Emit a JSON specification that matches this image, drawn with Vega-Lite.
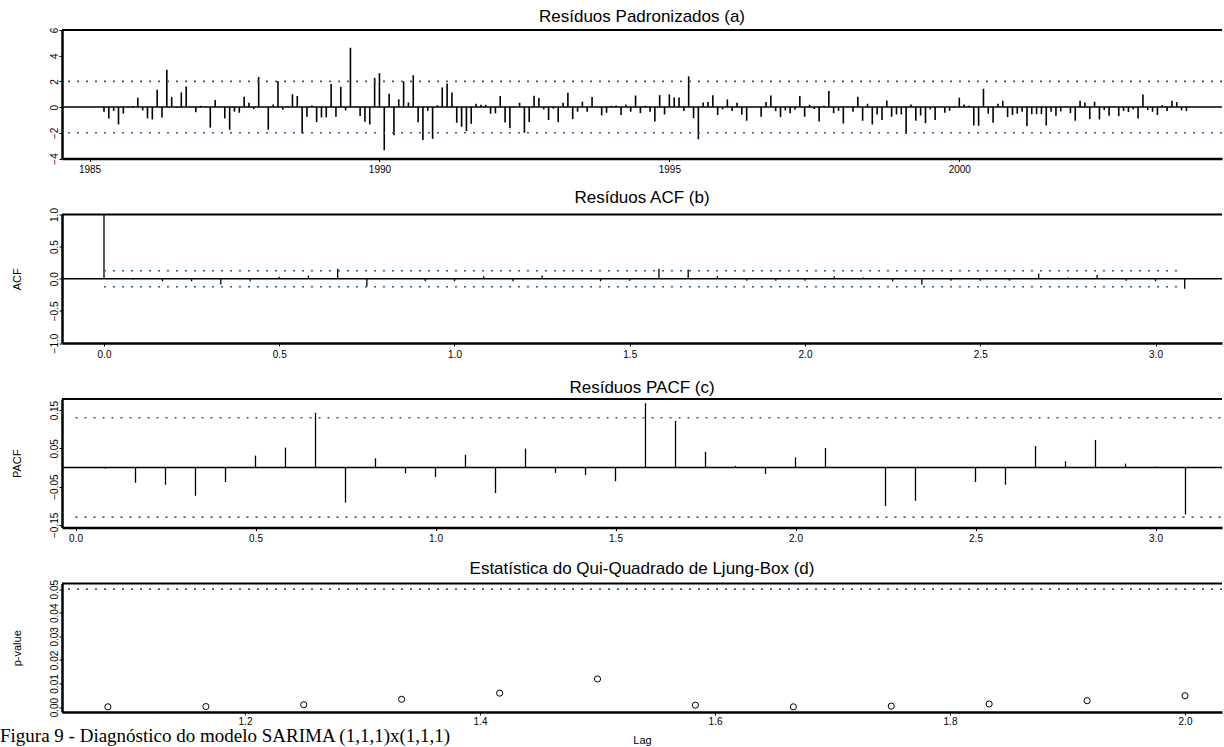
{
"$schema": "https://vega.github.io/schema/vega-lite/v6.json",
"background": "white",
"padding": {"left": 0, "top": 8, "right": 0, "bottom": 0},
"bounds": "flush",
"spacing": 55.5,
"title": {"text": "Figura 9 - Diagnóstico do modelo SARIMA (1,1,1)x(1,1,1)", "orient": "bottom", "anchor": "start", "frame": "bounds", "font": "Liberation Serif", "fontSize": 19, "fontWeight": "normal", "color": "black", "dx": -11, "offset": -18},
"config": {
  "view": {"stroke": null},
  "font": "Liberation Sans",
  "axis": {"domainColor": "black", "domainWidth": 2.5, "tickColor": "black", "tickSize": 3, "tickWidth": 1, "labelColor": "black", "labelFont": "Liberation Sans", "labelFontSize": 10, "labelOverlap": false, "labelFlush": false, "labelBound": false, "grid": false, "titleFont": "Liberation Sans", "titleFontSize": 11, "titleFontWeight": "normal", "titleColor": "black"},
  "axisY": {"labelAngle": -90, "labelAlign": "center", "labelBaseline": "bottom", "labelPadding": 0, "minExtent": 14, "maxExtent": 14, "titlePadding": 26},
  "axisX": {"labelPadding": 3, "titlePadding": 8},
  "title": {"font": "Liberation Sans", "fontSize": 17, "fontWeight": "normal", "color": "black", "offset": 1, "anchor": "middle"}
},
"datasets": {
  "res": [
    {"t":1985.25,"v":-0.36},{"t":1985.333,"v":-0.88},{"t":1985.417,"v":-0.3},{"t":1985.5,"v":-1.35},{"t":1985.583,"v":-0.5},{"t":1985.667,"v":-0.03},{"t":1985.75,"v":0.08},{"t":1985.833,"v":0.73},{"t":1985.917,"v":-0.26},
    {"t":1986.0,"v":-0.88},{"t":1986.083,"v":-0.96},{"t":1986.167,"v":1.35},{"t":1986.25,"v":-0.8},{"t":1986.333,"v":2.9},{"t":1986.417,"v":0.78},{"t":1986.5,"v":-0.05},{"t":1986.583,"v":1.14},{"t":1986.667,"v":1.6},{"t":1986.75,"v":0.05},{"t":1986.833,"v":-0.4},{"t":1986.917,"v":0.1},
    {"t":1987.0,"v":0.05},{"t":1987.083,"v":-1.6},{"t":1987.167,"v":0.55},{"t":1987.25,"v":0.05},{"t":1987.333,"v":-0.88},{"t":1987.417,"v":-1.77},{"t":1987.5,"v":-0.36},{"t":1987.583,"v":-0.44},{"t":1987.667,"v":0.8},{"t":1987.75,"v":0.34},{"t":1987.833,"v":-0.15},{"t":1987.917,"v":2.34},
    {"t":1988.0,"v":0.02},{"t":1988.083,"v":-1.77},{"t":1988.167,"v":0.2},{"t":1988.25,"v":2.03},{"t":1988.333,"v":-0.2},{"t":1988.417,"v":0.05},{"t":1988.5,"v":1.0},{"t":1988.583,"v":0.86},{"t":1988.667,"v":-2.05},{"t":1988.75,"v":-0.75},{"t":1988.833,"v":0.13},{"t":1988.917,"v":-1.17},
    {"t":1989.0,"v":-0.8},{"t":1989.083,"v":-0.8},{"t":1989.167,"v":1.8},{"t":1989.25,"v":-0.75},{"t":1989.333,"v":1.58},{"t":1989.417,"v":-0.26},{"t":1989.5,"v":4.62},{"t":1989.583,"v":0.05},{"t":1989.667,"v":-0.7},{"t":1989.75,"v":-1.14},{"t":1989.833,"v":-1.35},{"t":1989.917,"v":2.28},
    {"t":1990.0,"v":2.64},{"t":1990.083,"v":-3.35},{"t":1990.167,"v":1.04},{"t":1990.25,"v":-2.2},{"t":1990.333,"v":0.6},{"t":1990.417,"v":2.0},{"t":1990.5,"v":0.36},{"t":1990.583,"v":2.47},{"t":1990.667,"v":-1.17},{"t":1990.75,"v":-2.57},{"t":1990.833,"v":-0.3},{"t":1990.917,"v":-2.47},
    {"t":1991.0,"v":0.15},{"t":1991.083,"v":1.53},{"t":1991.167,"v":1.84},{"t":1991.25,"v":1.14},{"t":1991.333,"v":-1.22},{"t":1991.417,"v":-1.53},{"t":1991.5,"v":-1.87},{"t":1991.583,"v":-1.3},{"t":1991.667,"v":0.26},{"t":1991.75,"v":0.18},{"t":1991.833,"v":0.18},{"t":1991.917,"v":-0.52},
    {"t":1992.0,"v":-0.49},{"t":1992.083,"v":0.86},{"t":1992.167,"v":-1.19},{"t":1992.25,"v":-1.64},{"t":1992.333,"v":0.05},{"t":1992.417,"v":0.34},{"t":1992.5,"v":-2.0},{"t":1992.583,"v":-1.17},{"t":1992.667,"v":0.88},{"t":1992.75,"v":0.7},{"t":1992.833,"v":-0.18},{"t":1992.917,"v":-1.0},
    {"t":1993.0,"v":-0.13},{"t":1993.083,"v":-1.17},{"t":1993.167,"v":0.34},{"t":1993.25,"v":1.12},{"t":1993.333,"v":-0.94},{"t":1993.417,"v":-0.36},{"t":1993.5,"v":0.42},{"t":1993.583,"v":-0.36},{"t":1993.667,"v":0.78},{"t":1993.75,"v":0.02},{"t":1993.833,"v":-0.65},{"t":1993.917,"v":-0.44},
    {"t":1994.0,"v":0.1},{"t":1994.083,"v":0.13},{"t":1994.167,"v":-0.62},{"t":1994.25,"v":0.2},{"t":1994.333,"v":-0.36},{"t":1994.417,"v":0.9},{"t":1994.5,"v":-0.47},{"t":1994.583,"v":0.1},{"t":1994.667,"v":-0.36},{"t":1994.75,"v":-1.12},{"t":1994.833,"v":0.93},{"t":1994.917,"v":-0.57},
    {"t":1995.0,"v":0.99},{"t":1995.083,"v":0.75},{"t":1995.167,"v":0.75},{"t":1995.25,"v":-0.31},{"t":1995.333,"v":2.39},{"t":1995.417,"v":-0.86},{"t":1995.5,"v":-2.5},{"t":1995.583,"v":0.36},{"t":1995.667,"v":0.39},{"t":1995.75,"v":0.93},{"t":1995.833,"v":-0.62},{"t":1995.917,"v":-0.18},
    {"t":1996.0,"v":0.6},{"t":1996.083,"v":-0.31},{"t":1996.167,"v":0.34},{"t":1996.25,"v":-0.6},{"t":1996.333,"v":-1.06},{"t":1996.417,"v":0.02},{"t":1996.5,"v":0.02},{"t":1996.583,"v":-0.75},{"t":1996.667,"v":0.39},{"t":1996.75,"v":0.9},{"t":1996.833,"v":-0.31},{"t":1996.917,"v":-0.78},
    {"t":1997.0,"v":-0.26},{"t":1997.083,"v":-0.47},{"t":1997.167,"v":-0.2},{"t":1997.25,"v":0.86},{"t":1997.333,"v":-0.75},{"t":1997.417,"v":0.18},{"t":1997.5,"v":-0.15},{"t":1997.583,"v":-1.12},{"t":1997.667,"v":0.1},{"t":1997.75,"v":1.25},{"t":1997.833,"v":-0.47},{"t":1997.917,"v":-0.29},
    {"t":1998.0,"v":-1.27},{"t":1998.083,"v":0.05},{"t":1998.167,"v":-0.36},{"t":1998.25,"v":0.8},{"t":1998.333,"v":-1.06},{"t":1998.417,"v":0.26},{"t":1998.5,"v":-1.35},{"t":1998.583,"v":-0.57},{"t":1998.667,"v":-1.0},{"t":1998.75,"v":0.52},{"t":1998.833,"v":-0.75},{"t":1998.917,"v":-0.57},
    {"t":1999.0,"v":-0.57},{"t":1999.083,"v":-2.1},{"t":1999.167,"v":0.2},{"t":1999.25,"v":-1.06},{"t":1999.333,"v":-0.65},{"t":1999.417,"v":-1.25},{"t":1999.5,"v":-0.18},{"t":1999.583,"v":-1.0},{"t":1999.667,"v":0.02},{"t":1999.75,"v":-0.44},{"t":1999.833,"v":-0.29},{"t":1999.917,"v":0.05},
    {"t":2000.0,"v":0.73},{"t":2000.083,"v":0.2},{"t":2000.167,"v":0.1},{"t":2000.25,"v":-1.43},{"t":2000.333,"v":-1.45},{"t":2000.417,"v":1.43},{"t":2000.5,"v":-0.52},{"t":2000.583,"v":-1.22},{"t":2000.667,"v":0.26},{"t":2000.75,"v":0.49},{"t":2000.833,"v":-0.78},{"t":2000.917,"v":-0.62},
    {"t":2001.0,"v":-0.52},{"t":2001.083,"v":-0.36},{"t":2001.167,"v":-1.48},{"t":2001.25,"v":-0.55},{"t":2001.333,"v":-0.55},{"t":2001.417,"v":-0.55},{"t":2001.5,"v":-1.43},{"t":2001.583,"v":-0.36},{"t":2001.667,"v":-0.68},{"t":2001.75,"v":-0.34},{"t":2001.833,"v":0.05},{"t":2001.917,"v":-0.47},
    {"t":2002.0,"v":-1.06},{"t":2002.083,"v":0.49},{"t":2002.167,"v":0.36},{"t":2002.25,"v":-0.94},{"t":2002.333,"v":0.42},{"t":2002.417,"v":-0.96},{"t":2002.5,"v":-0.23},{"t":2002.583,"v":-0.68},{"t":2002.667,"v":0.02},{"t":2002.75,"v":-0.7},{"t":2002.833,"v":-0.31},{"t":2002.917,"v":-0.39},
    {"t":2003.0,"v":-0.18},{"t":2003.083,"v":-0.88},{"t":2003.167,"v":0.99},{"t":2003.25,"v":-0.23},{"t":2003.333,"v":-0.36},{"t":2003.417,"v":-0.62},{"t":2003.5,"v":0.15},{"t":2003.583,"v":-0.31},{"t":2003.667,"v":0.49},{"t":2003.75,"v":0.39},{"t":2003.833,"v":-0.26},{"t":2003.917,"v":-0.31}
  ],
  "acf": [
    {"lag":0,"acf":1.0},{"lag":0.0833,"acf":-0.01},{"lag":0.1667,"acf":-0.04},{"lag":0.25,"acf":-0.04},{"lag":0.3333,"acf":-0.09},{"lag":0.4167,"acf":-0.04},{"lag":0.5,"acf":0.03},{"lag":0.5833,"acf":0.05},{"lag":0.6667,"acf":0.155},{"lag":0.75,"acf":-0.12},
    {"lag":0.8333,"acf":0.01},{"lag":0.9167,"acf":-0.04},{"lag":1.0,"acf":-0.04},{"lag":1.0833,"acf":0.04},{"lag":1.1667,"acf":-0.04},{"lag":1.25,"acf":0.05},{"lag":1.3333,"acf":0.01},{"lag":1.4167,"acf":-0.04},{"lag":1.5,"acf":-0.03},{"lag":1.5833,"acf":0.155},
    {"lag":1.6667,"acf":0.145},{"lag":1.75,"acf":0.04},{"lag":1.8333,"acf":-0.03},{"lag":1.9167,"acf":-0.03},{"lag":2.0,"acf":-0.03},{"lag":2.0833,"acf":0.04},{"lag":2.1667,"acf":0.02},{"lag":2.25,"acf":-0.04},{"lag":2.3333,"acf":-0.09},{"lag":2.4167,"acf":-0.03},
    {"lag":2.5,"acf":-0.03},{"lag":2.5833,"acf":-0.03},{"lag":2.6667,"acf":0.08},{"lag":2.75,"acf":0.02},{"lag":2.8333,"acf":0.06},{"lag":2.9167,"acf":-0.03},{"lag":3.0,"acf":-0.04},{"lag":3.0833,"acf":-0.155}
  ],
  "pacf": [
    {"lag":0.0833,"pacf":-0.003},{"lag":0.1667,"pacf":-0.04},{"lag":0.25,"pacf":-0.045},{"lag":0.3333,"pacf":-0.074},{"lag":0.4167,"pacf":-0.038},{"lag":0.5,"pacf":0.031},{"lag":0.5833,"pacf":0.052},{"lag":0.6667,"pacf":0.143},{"lag":0.75,"pacf":-0.092},
    {"lag":0.8333,"pacf":0.024},{"lag":0.9167,"pacf":-0.015},{"lag":1.0,"pacf":-0.025},{"lag":1.0833,"pacf":0.033},{"lag":1.1667,"pacf":-0.067},{"lag":1.25,"pacf":0.049},{"lag":1.3333,"pacf":-0.014},{"lag":1.4167,"pacf":-0.02},{"lag":1.5,"pacf":-0.036},{"lag":1.5833,"pacf":0.168},
    {"lag":1.6667,"pacf":0.122},{"lag":1.75,"pacf":0.041},{"lag":1.8333,"pacf":0.004},{"lag":1.9167,"pacf":-0.017},{"lag":2.0,"pacf":0.026},{"lag":2.0833,"pacf":0.051},{"lag":2.1667,"pacf":0.001},{"lag":2.25,"pacf":-0.101},{"lag":2.3333,"pacf":-0.087},
    {"lag":2.4167,"pacf":0.001},{"lag":2.5,"pacf":-0.038},{"lag":2.5833,"pacf":-0.045},{"lag":2.6667,"pacf":0.056},{"lag":2.75,"pacf":0.016},{"lag":2.8333,"pacf":0.072},{"lag":2.9167,"pacf":0.01},{"lag":3.0,"pacf":0.002},{"lag":3.0833,"pacf":-0.123}
  ],
  "lb": [
    {"lag":1.0833,"p":0.0001},{"lag":1.1667,"p":0.0002},{"lag":1.25,"p":0.001},{"lag":1.3333,"p":0.0033},{"lag":1.4167,"p":0.0059},{"lag":1.5,"p":0.0119},
    {"lag":1.5833,"p":0.0008},{"lag":1.6667,"p":0.0001},{"lag":1.75,"p":0.0004},{"lag":1.8333,"p":0.0013},{"lag":1.9167,"p":0.0027},{"lag":2.0,"p":0.0048}
  ]
},
"vconcat": [
  {
    "width": 1160, "height": 128.5,
    "title": "Resíduos Padronizados (a)",
    "layer": [
      {"data": {"name": "res"}, "mark": {"type": "rule", "color": "black", "strokeWidth": 1.6},
       "encoding": {
         "x": {"field": "t", "type": "quantitative", "title": null, "scale": {"domain": [1984.5255, 2004.5307], "nice": false, "zero": false}, "axis": {"values": [1985, 1990, 1995, 2000], "tickCount": 20, "format": "d", "title": null, "labelOverlap": false}},
         "y": {"field": "v", "type": "quantitative", "title": null, "scale": {"domain": [-4, 6], "nice": false, "zero": false}, "axis": {"values": [-4, -2, 0, 2, 4, 6], "tickCount": 20, "format": "d", "title": null, "labelOverlap": false}},
         "y2": {"datum": 0}}},
      {"data": {"values": [{}]}, "mark": {"type": "rule", "color": "black", "strokeWidth": 1.5}, "encoding": {"y": {"datum": 0, "type": "quantitative", "title": null}}},
      {"data": {"values": [{}]}, "mark": {"type": "rule", "color": "black", "strokeWidth": 1.8}, "encoding": {"y": {"datum": 6, "type": "quantitative", "title": null}}},
      {"data": {"values": [{"c": 2}, {"c": -2}]}, "mark": {"type": "rule", "color": "#2b5d9b", "strokeWidth": 1.6, "strokeDash": [2, 7]}, "encoding": {"y": {"field": "c", "type": "quantitative", "title": null}}}
    ]
  },
  {
    "width": 1160, "height": 128.5,
    "title": "Resíduos ACF (b)",
    "layer": [
      {"data": {"name": "acf"}, "mark": {"type": "rule", "color": "black", "strokeWidth": 1.3},
       "encoding": {
         "x": {"field": "lag", "type": "quantitative", "title": null, "scale": {"domain": [-0.1198, 3.1897], "nice": false, "zero": false}, "axis": {"values": [0, 0.5, 1, 1.5, 2, 2.5, 3], "tickCount": 20, "format": ".1f", "title": null, "labelOverlap": false}},
         "y": {"field": "acf", "type": "quantitative", "title": "ACF", "scale": {"domain": [-1, 1], "nice": false, "zero": false}, "axis": {"values": [-1, -0.5, 0, 0.5, 1], "tickCount": 20, "format": ".1f", "title": "ACF", "labelOverlap": false}},
         "y2": {"datum": 0}}},
      {"data": {"values": [{}]}, "mark": {"type": "rule", "color": "black", "strokeWidth": 1.5}, "encoding": {"y": {"datum": 0, "type": "quantitative", "title": "ACF"}}},
      {"data": {"values": [{}]}, "mark": {"type": "rule", "color": "black", "strokeWidth": 1.8}, "encoding": {"y": {"datum": 1, "type": "quantitative", "title": "ACF"}}},
      {"data": {"values": [{"c": 0.125}, {"c": -0.125}]}, "mark": {"type": "rule", "color": "#2b5d9b", "strokeWidth": 1.6, "strokeDash": [2, 7]}, "encoding": {"y": {"field": "c", "type": "quantitative", "title": "ACF"}, "x": {"datum": 0, "type": "quantitative", "title": null}, "x2": {"datum": 3.07}}}
    ]
  },
  {
    "width": 1160, "height": 128.5,
    "title": "Resíduos PACF (c)",
    "layer": [
      {"data": {"name": "pacf"}, "mark": {"type": "rule", "color": "black", "strokeWidth": 1.3},
       "encoding": {
         "x": {"field": "lag", "type": "quantitative", "title": null, "scale": {"domain": [-0.0375, 3.1847], "nice": false, "zero": false}, "axis": {"values": [0, 0.5, 1, 1.5, 2, 2.5, 3], "tickCount": 20, "format": ".1f", "title": null, "labelOverlap": false}},
         "y": {"field": "pacf", "type": "quantitative", "title": "PACF", "scale": {"domain": [-0.157, 0.179], "nice": false, "zero": false}, "axis": {"values": [-0.15, -0.05, 0.05, 0.15], "tickCount": 20, "format": ".2f", "title": "PACF", "labelOverlap": false}},
         "y2": {"datum": 0}}},
      {"data": {"values": [{}]}, "mark": {"type": "rule", "color": "black", "strokeWidth": 1.5}, "encoding": {"y": {"datum": 0, "type": "quantitative", "title": "PACF"}}},
      {"data": {"values": [{}]}, "mark": {"type": "rule", "color": "black", "strokeWidth": 1.8}, "encoding": {"y": {"datum": 0.179, "type": "quantitative", "title": "PACF"}}},
      {"data": {"values": [{"c": 0.13}, {"c": -0.13}]}, "mark": {"type": "rule", "color": "#2b5d9b", "strokeWidth": 1.6, "strokeDash": [2, 7]}, "encoding": {"y": {"field": "c", "type": "quantitative", "title": "PACF"}, "x": {"datum": 0, "type": "quantitative", "title": null}, "x2": {"datum": 3.1847}}}
    ]
  },
  {
    "width": 1160, "height": 128.5,
    "title": "Estatística do Qui-Quadrado de Ljung-Box (d)",
    "layer": [
      {"data": {"name": "lb"}, "mark": {"type": "point", "shape": "circle", "filled": false, "color": "black", "strokeWidth": 1, "size": 38, "opacity": 1},
       "encoding": {
         "x": {"field": "lag", "type": "quantitative", "title": "Lag", "scale": {"domain": [1.04426, 2.03149], "nice": false, "zero": false}, "axis": {"values": [1.2, 1.4, 1.6, 1.8, 2.0], "tickCount": 20, "format": ".1f", "title": "Lag", "labelOverlap": false, "labelPadding": 1}},
         "y": {"field": "p", "type": "quantitative", "title": "p-value", "scale": {"domain": [-0.0021, 0.0524], "nice": false, "zero": false}, "axis": {"values": [0, 0.01, 0.02, 0.03, 0.04, 0.05], "tickCount": 20, "format": ".2f", "title": "p-value", "labelOverlap": false}}}},
      {"data": {"values": [{}]}, "mark": {"type": "rule", "color": "black", "strokeWidth": 1.8}, "encoding": {"y": {"datum": 0.0524, "type": "quantitative", "title": "p-value"}}},
      {"data": {"values": [{"c": 0.05}]}, "mark": {"type": "rule", "color": "#2b5d9b", "strokeWidth": 1.6, "strokeDash": [2, 7]}, "encoding": {"y": {"field": "c", "type": "quantitative", "title": "p-value"}}}
    ]
  }
]
}
